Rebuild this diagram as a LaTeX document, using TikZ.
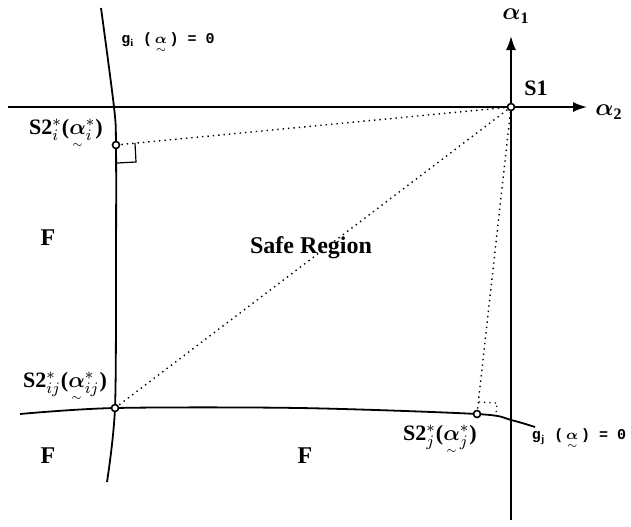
\documentclass[tikz,border=0pt]{standalone}
\usepackage{amsmath}
\usepackage{fontspec}
\setmainfont{Liberation Serif}
\newfontfamily\eqfont{Liberation Mono}
\usetikzlibrary{arrows.meta, positioning}

\newcommand{\ualpha}{\mathord{\smash[b]{\underset{\scriptscriptstyle\sim}{\boldsymbol{\alpha}}}}}
\newcommand{\galpha}{\underset{\scriptscriptstyle\sim}{\boldsymbol{\alpha}}}

\begin{document}
\begin{tikzpicture}[x=0.5pt, y=-0.5pt,
    font=\bfseries\fontsize{11}{13}\selectfont,
    axis/.style={line width=0.9pt, -{Latex[length=7pt, width=5pt]}},
    limit/.style={line width=0.9pt},
    aux/.style={dotted, line width=0.7pt},
    pt/.style={circle, draw, fill=white, line width=0.8pt,
               inner sep=0pt, minimum size=3.5pt},
    eq/.style={font=\eqfont\bfseries\fontsize{7.5}{9}\selectfont}]
  \useasboundingbox (0,0) rectangle (631,526);

  % axes through S1
  \coordinate (S1) at (511,107);
  \coordinate (xl) at (8,107);
  \coordinate (xr) at (587,107);
  \coordinate (yb) at (511,520);
  \coordinate (yt) at (511,36);
  \draw[limit] (xl) -- (S1);
  \draw[axis] (S1) -- (xr);
  \draw[limit] (yb) -- (S1);
  \draw[axis] (S1) -- (yt);

  % limit state curves
  \coordinate (Si) at (116,145);
  \coordinate (Sij) at (115,408);
  \coordinate (Sj) at (477,414);
  \draw[limit] plot[smooth] coordinates
    {(101,8) (114,107) (Si) (116,260) (Sij) (107,482)};
  \draw[limit] plot[smooth] coordinates
    {(20,414) (Sij) (300,408) (Sj) (511,420) (535,427)};

  % distances to the origin
  \draw[aux] (Si) -- (S1);
  \draw[aux] (Sij) -- (S1);
  \draw[aux] (Sj) -- (S1);

  % right angle marks
  \draw[line width=0.6pt] (117,163) -- (136,162) -- (135,143);
  \draw[dotted, line width=0.6pt] (479,402) -- (497,403) -- (496,414);

  \foreach \p in {S1, Si, Sij, Sj}
    \node[pt] (\p-dot) at (\p) {};

  % labels
  \node (a1) at (516,16) {\large$\boldsymbol{\alpha}_{\mathbf 1}$};
  \node (a2) at (609,112) {\large$\boldsymbol{\alpha}_{\mathbf 2}$};
  \node (s1) at (536,88) {S1};
  \node[eq] (gi) at (168,44) {g$_{\mathbf i}$ ($\,\galpha\,$) = 0};
  \node[eq] (gj) at (579,440) {g$_{\mathbf j}$ ($\,\galpha\,$) = 0};
  \node (si) at (66,130) {S2$^*_{i}$($\ualpha^*_{i}$)};
  \node (sij) at (65,384) {S2$^*_{ij}$($\ualpha^*_{ij}$)};
  \node (sj) at (440,437) {S2$^*_{j}$($\ualpha^*_{j}$)};
  \node[font=\bfseries\fontsize{12}{14}\selectfont] (safe) at (311,248)
    {Safe Region};
  \foreach \x/\y/\n in {48/238/f1, 48/456/f2, 305/456/f3}
    \node (\n) at (\x,\y) {\large F};
\end{tikzpicture}
\end{document}
